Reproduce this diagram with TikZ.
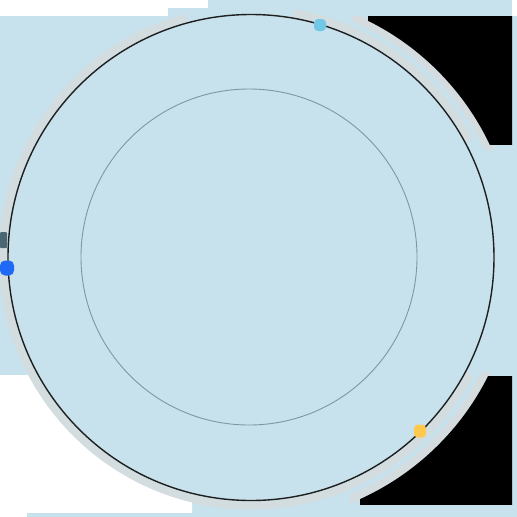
\documentclass[tikz,border=0pt]{standalone}
\usetikzlibrary{calc}
\definecolor{bg}{HTML}{C7E2EC}
\definecolor{halo}{HTML}{D9DBDC}
\definecolor{dotblue}{HTML}{1E6AF5}
\definecolor{dotsky}{HTML}{72C6E8}
\definecolor{dotyellow}{HTML}{FFC94D}
\definecolor{slate}{HTML}{4B6673}
\definecolor{innerline}{HTML}{7E97A2}
\begin{document}
\begin{tikzpicture}[x=1pt,y=-1pt,
  dot/.style={rounded corners=4pt, inner sep=0pt, minimum width=12pt, minimum height=12pt, draw=none},
  ring/.style={circle, inner sep=0pt, outer sep=0pt, fill=none}]
\useasboundingbox (0,0) rectangle (517,517);
\fill[bg] (0,0) rectangle (517,517);
\coordinate (C) at (251,257.5);
% white strips
\fill[white] (0,0) rectangle (168,16);
\fill[white] (168,0) rectangle (208,8);
\fill[white] (512,0) rectangle (517,16);
\fill[white] (0,512) rectangle (27,517);
% halo ring
\begin{scope}
  \clip (C) -- ($(C)+(28:420pt)$) -- ($(C)+(54:420pt)$) -- ($(C)+(80:420pt)$) -- cycle
        (C) -- ($(C)+(105:420pt)$) -- ($(C)+(180:420pt)$) -- ($(C)+(255:420pt)$) -- ($(C)+(332:420pt)$) -- cycle;
  \fill[halo, opacity=0.7, even odd rule] (C) circle[radius=252pt] (C) circle[radius=244pt];
\end{scope}
% halo next to the black corners
\begin{scope}
  \clip (352,16) rectangle (512,150) (350,372) rectangle (512,504);
  \fill[halo, opacity=0.8, even odd rule] (C) circle[radius=266pt] (C) circle[radius=257pt];
\end{scope}
% bottom-left white region outside the circle
\begin{scope}
  \clip (0,375) rectangle (192,512);
  \fill[white, even odd rule] (-20,360) rectangle (210,530) (C) circle[radius=252pt];
\end{scope}
% black regions
\begin{scope}
  \clip (368,16) rectangle (512,144);
  \fill[black, even odd rule] (350,0) rectangle (530,160) (C) circle[radius=264pt];
\end{scope}
\begin{scope}
  \clip (360,376) rectangle (512,504);
  \fill[black, even odd rule] (340,360) rectangle (530,520) (C) circle[radius=265pt];
\end{scope}
% circles
\node[ring, draw=innerline, line width=0.9pt, minimum size=336pt] (inner) at (249,257) {};
\node[ring, draw=black!88, line width=1.4pt, minimum size=486pt] (outer) at (C) {};
% markers
\node[dot, fill=slate, minimum width=7pt, minimum height=16pt, rounded corners=1pt] (s) at (3.5,240) {};
\node[dot, fill=dotblue, minimum width=14pt, minimum height=15pt, rounded corners=5pt] (b) at (7,268) {};
\node[dot, fill=dotsky] (k) at (320,25) {};
\node[dot, fill=dotyellow, minimum height=13pt] (y) at (420,431) {};
\end{tikzpicture}
\end{document}
